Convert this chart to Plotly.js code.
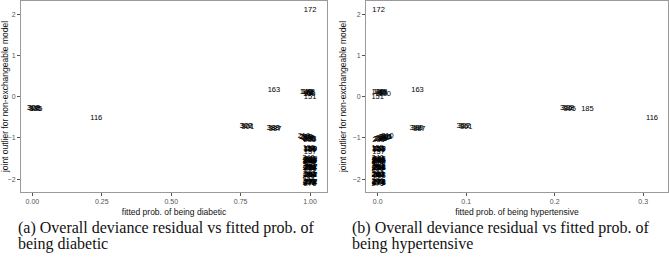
<!DOCTYPE html>
<html><head><meta charset="utf-8">
<script src="https://cdn.plot.ly/plotly-3.0.1.min.js"></script>
<style>html,body{margin:0;padding:0;background:#fff}#chart{width:669px;height:260px}</style>
</head><body><div id="chart"></div>
<script>
// observation labels, residual (y), fitted prob. diabetic (panel a x), fitted prob. hypertensive (panel b x)
const obsLabels = ["172","140","120","148","52","73","97","130","151","163","306","308","305","185","116","309","302","301","388","389","387",
  "210","211","215","219","220","222","225","230","233","235",
  "155","156","158","160","161","157","159",
  "240","241","242","243","244","245","246","247","248","249","238","239",
  "250","251","252","253","254","255","256","257","258","259",
  "260","261","262","263","264","265","266","267",
  "270","271","272","273","274","275","276","277","278","279"];
const residual = [2.10,0.12,0.11,0.10,0.09,0.08,0.07,0.06,0.00,0.15,-0.27,-0.28,-0.29,-0.30,-0.53,-0.71,-0.72,-0.73,-0.76,-0.77,-0.78,
  -0.96,-0.97,-0.98,-0.99,-1.00,-1.01,-1.02,-1.03,-1.04,-1.05,
  -1.25,-1.26,-1.27,-1.28,-1.29,-1.35,-1.26,
  -1.50,-1.51,-1.52,-1.53,-1.54,-1.55,-1.56,-1.57,-1.58,-1.59,-1.53,-1.56,
  -1.69,-1.70,-1.71,-1.72,-1.73,-1.74,-1.75,-1.71,-1.73,-1.72,
  -1.87,-1.88,-1.89,-1.90,-1.91,-1.92,-1.89,-1.90,
  -2.05,-2.06,-2.07,-2.08,-2.09,-2.10,-2.11,-2.07,-2.09,-2.08];
const fittedDiab = [1.000,0.985,0.990,0.995,1.000,0.998,0.993,0.997,1.000,0.870,0.002,0.006,0.010,0.014,0.230,0.768,0.772,0.776,0.866,0.870,0.874,
  0.978,0.982,0.985,0.988,0.991,0.994,0.996,0.998,1.000,0.999,
  0.996,1.000,0.998,1.002,0.999,1.000,1.003,
  0.994,0.999,1.004,0.997,1.002,0.995,1.000,1.004,0.997,1.001,0.996,1.003,
  0.995,1.000,1.004,0.997,1.002,0.996,1.001,1.004,0.998,0.999,
  0.996,1.001,1.004,0.998,1.002,0.995,1.000,1.003,
  0.995,0.999,1.004,0.997,1.002,0.996,1.000,1.004,0.998,1.001];
const fittedHyp = [0.001,0.000,0.002,0.004,0.005,0.006,0.003,0.008,0.000,0.045,0.213,0.215,0.217,0.237,0.310,0.096,0.098,0.100,0.043,0.045,0.047,
  0.011,0.010,0.009,0.008,0.007,0.005,0.004,0.003,0.002,0.001,
  0.000,0.001,0.002,0.000,0.001,0.001,0.002,
  0.000,0.001,0.002,0.000,0.001,0.002,0.000,0.001,0.002,0.000,0.001,0.002,
  0.000,0.001,0.002,0.000,0.001,0.002,0.000,0.001,0.002,0.001,
  0.000,0.001,0.002,0.000,0.001,0.002,0.000,0.001,
  0.000,0.001,0.002,0.000,0.001,0.002,0.000,0.001,0.002,0.001];
const xTicksA = [0, 0.25, 0.5, 0.75, 1.0];
const xTickTextA = ["0.00","0.25","0.50","0.75","1.00"];
const xTicksB = [0, 0.1, 0.2, 0.3];
const xTickTextB = ["0.0","0.1","0.2","0.3"];
const yTicks = [-2, -1, 0, 1, 2];

const textFont = {family: "Liberation Sans, Arial, sans-serif", size: 7.5, color: "#000"};
const traces = [
  {x: fittedDiab, y: residual, text: obsLabels, mode: "text", type: "scatter", textfont: textFont, xaxis: "x", yaxis: "y", hoverinfo: "none", cliponaxis: false},
  {x: fittedHyp, y: residual, text: obsLabels, mode: "text", type: "scatter", textfont: textFont, xaxis: "x2", yaxis: "y2", hoverinfo: "none", cliponaxis: false}
];
const axFont = {family: "Liberation Sans, Arial, sans-serif", size: 7, color: "#555"};
const titleFont = {family: "Liberation Sans, Arial, sans-serif", size: 8.5, color: "#111"};
const capFont = {family: "Liberation Serif, Times New Roman, serif", size: 16, color: "#111"};
const common = {showgrid: false, zeroline: false, showline: true, mirror: true, linecolor: "#9a9a9a", linewidth: 1,
  ticks: "outside", ticklen: 3, tickcolor: "#555", tickwidth: 1, tickfont: axFont};
const yDom = [1 - 192/260, 1 - 1/260];
function cap(text, xpx, ypx) {
  return {text: text, xref: "paper", yref: "paper", x: xpx/669, y: 1 - ypx/260, xanchor: "left", yanchor: "middle",
    align: "left", showarrow: false, font: capFont};
}
const layout = {
  width: 669, height: 260, margin: {l: 0, r: 0, t: 0, b: 0}, paper_bgcolor: "#fff", plot_bgcolor: "#fff", showlegend: false,
  xaxis: Object.assign({}, common, {domain: [21/669, 327/669], range: [-0.041, 1.061], tickvals: xTicksA, ticktext: xTickTextA,
    title: {text: "fitted prob. of being diabetic", font: titleFont, standoff: 4}}),
  yaxis: Object.assign({}, common, {domain: yDom, range: [-2.31, 2.32], tickvals: yTicks, anchor: "x",
    title: {text: "joint outlier for non-exchangeable model", font: titleFont, standoff: 4}}),
  xaxis2: Object.assign({}, common, {domain: [366/669, 668/669], range: [-0.0132, 0.328], tickvals: xTicksB, ticktext: xTickTextB, anchor: "y2",
    title: {text: "fitted prob. of being hypertensive", font: titleFont, standoff: 4}}),
  yaxis2: Object.assign({}, common, {domain: yDom, range: [-2.31, 2.32], tickvals: yTicks, anchor: "x2",
    title: {text: "joint outlier for non-exchangeable model", font: titleFont, standoff: 4}}),
  annotations: [
    cap("(a) Overall deviance residual vs fitted prob. of", 16, 228),
    cap("being diabetic", 16, 244),
    cap("(b) Overall deviance residual vs fitted prob. of", 350, 228),
    cap("being hypertensive", 350, 244)
  ]
};
Plotly.newPlot("chart", traces, layout, {staticPlot: true, displayModeBar: false});
</script></body></html>
